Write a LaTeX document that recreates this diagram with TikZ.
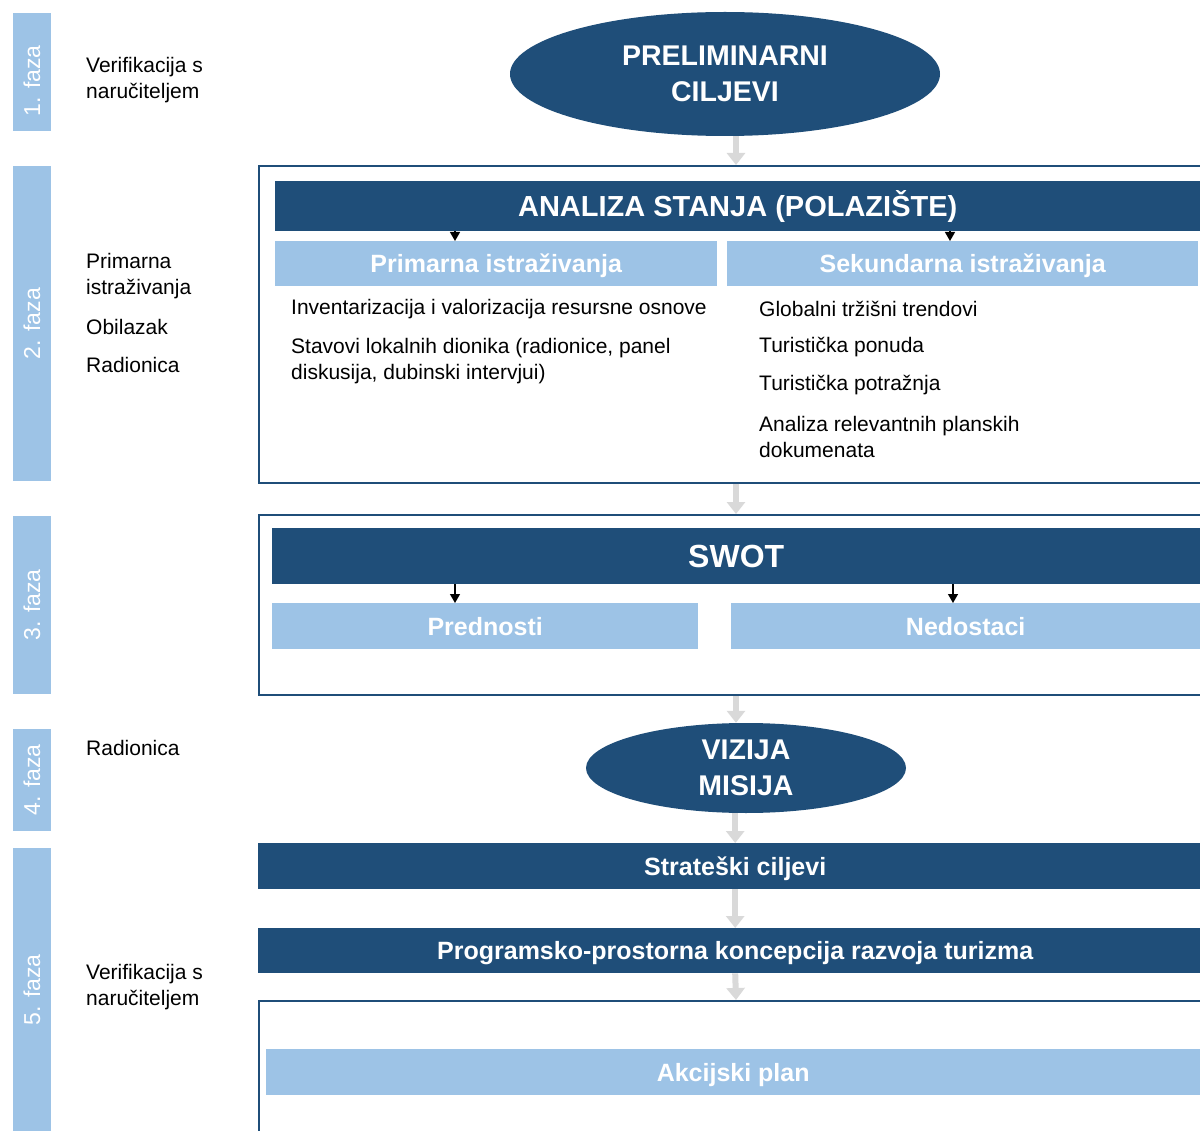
\documentclass[tikz,border=0pt]{standalone}
\usepackage{fontspec}
\setmainfont{Liberation Sans}
\usetikzlibrary{arrows.meta,shapes.geometric,calc}
\definecolor{dblue}{HTML}{1F4E79}
\definecolor{lblue}{HTML}{9DC3E6}
\definecolor{garr}{HTML}{D9D9D9}
\begin{document}
\begin{tikzpicture}[x=1pt,y=-1pt,
  phase/.style={fill=lblue, text=white, rotate=90, minimum height=38, inner sep=0,
    font=\fontsize{23}{26}\selectfont},
  phasetxt/.style={text=white, rotate=90, inner sep=0, font=\fontsize{23}{26}\selectfont},
  side/.style={anchor=west, inner sep=0, align=left, font=\fontsize{21}{26}\selectfont},
  dbar/.style={fill=dblue, text=white, anchor=north west, inner sep=0,
    font=\bfseries\fontsize{25}{28}\selectfont, text height=18, text depth=0},
  lbar/.style={fill=lblue, text=white, anchor=north west, inner sep=0,
    font=\bfseries\fontsize{25}{28}\selectfont, text height=18, text depth=0},
  frame/.style={draw=dblue, line width=2, anchor=north west, inner sep=0, minimum width=954},
  oval/.style={ellipse, fill=dblue, text=white, align=center, inner sep=0,
    font=\bfseries\fontsize{28.5}{36}\selectfont},
  garrow/.style={draw=garr, line width=6, -{Triangle[length=12pt,width=18pt]}},
  barrow/.style={draw=black, line width=1.3, -{Triangle[length=9pt,width=10pt]}}
]
\clip (0,0) rectangle (1200,1131);
\fill[white] (0,0) rectangle (1200,1131);

% phase bars
\node[phase, minimum width=118] (p1) at (32,72) {};
\node[phasetxt] (p1t) at (32,81) {1. faza};
\node[phase, minimum width=315] (p2) at (32,323.5) {2. faza};
\node[phase, minimum width=178] (p3) at (32,605) {3. faza};
\node[phase, minimum width=102] (p4) at (32,780) {4. faza};
\node[phase, minimum width=284] (p5) at (32,990) {5. faza};

% side notes
\node[side] (s1) at (86,80) {Verifikacija s\\naručiteljem};
\node[side] (s2) at (86,276) {Primarna\\istraživanja};
\node[side] (s3) at (86,327) {Obilazak};
\node[side] (s4) at (86,365) {Radionica};
\node[side] (s5) at (86,748) {Radionica};
\node[side] (s6) at (86,987) {Verifikacija s\\naručiteljem};

% phase 1
\node[oval, minimum width=430, minimum height=124] (e1) at (725,74) {PRELIMINARNI\\CILJEVI};

% phase 2
\node[frame, minimum height=317] (f2) at (258,165) {};
\node[dbar, minimum width=925, minimum height=50, font=\bfseries\fontsize{29}{32}\selectfont, text height=20]
  (bA) at (275,181) {ANALIZA STANJA (POLAZIŠTE)};
\node[lbar, minimum width=442, minimum height=45] (bP) at (275,241) {Primarna istraživanja};
\node[lbar, minimum width=471, minimum height=45] (bS) at (727,241) {Sekundarna istraživanja};
\coordinate (k1) at (455,0);
\coordinate (k2) at (950,0);
\draw[barrow] (bA.south -| k1) -- (bP.north -| k1);
\draw[barrow] (bA.south -| k2) -- (bS.north -| k2);
\node[side] (t1) at (291,309) {Inventarizacija i valorizacija resursne osnove};
\node[side] (t2) at (291,361) {Stavovi lokalnih dionika (radionice, panel\\diskusija, dubinski intervjui)};
\node[side] (t3) at (759,309) {Globalni tržišni trendovi};
\node[side] (t4) at (759,347) {Turistička ponuda};
\node[side] (t5) at (759,385) {Turistička potražnja};
\node[side] (t6) at (759,437) {Analiza relevantnih planskih\\dokumenata};

% phase 3
\node[frame, minimum height=180] (f3) at (258,514) {};
\node[dbar, minimum width=928, minimum height=56, font=\bfseries\fontsize{32}{36}\selectfont, text height=23]
  (bSW) at (272,528) {SWOT};
\node[lbar, minimum width=426, minimum height=46] (bPr) at (272,603) {Prednosti};
\node[lbar, minimum width=469, minimum height=46] (bN) at (731,603) {Nedostaci};
\coordinate (k3) at (455,0);
\coordinate (k4) at (953,0);
\draw[barrow] (bSW.south -| k3) -- (bPr.north -| k3);
\draw[barrow] (bSW.south -| k4) -- (bN.north -| k4);

% phase 4
\node[oval, minimum width=320, minimum height=90] (e4) at (746,768) {VIZIJA\\MISIJA};

% phase 5
\node[dbar, minimum width=954, minimum height=46] (b5) at (258,843) {Strateški ciljevi};
\node[dbar, minimum width=954, minimum height=45] (b6) at (258,928) {Programsko-prostorna koncepcija razvoja turizma};
\node[frame, minimum height=160] (f5) at (258,1000) {};
\node[lbar, minimum width=934, minimum height=46] (bAk) at (266,1049) {Akcijski plan};

% flow arrows
\draw[garrow] (e1.south -| f2.north) -- (f2.north);
\draw[garrow] (f2.south) -- (f3.north);
\draw[garrow] (f3.south) -- (f3.south |- e4.north);
\draw[garrow] (b5.north |- e4.south) -- (b5.north);
\draw[garrow] (b5.south) -- (b6.north);
\draw[garrow] (b6.south) -- (f5.north);
\end{tikzpicture}
\end{document}
